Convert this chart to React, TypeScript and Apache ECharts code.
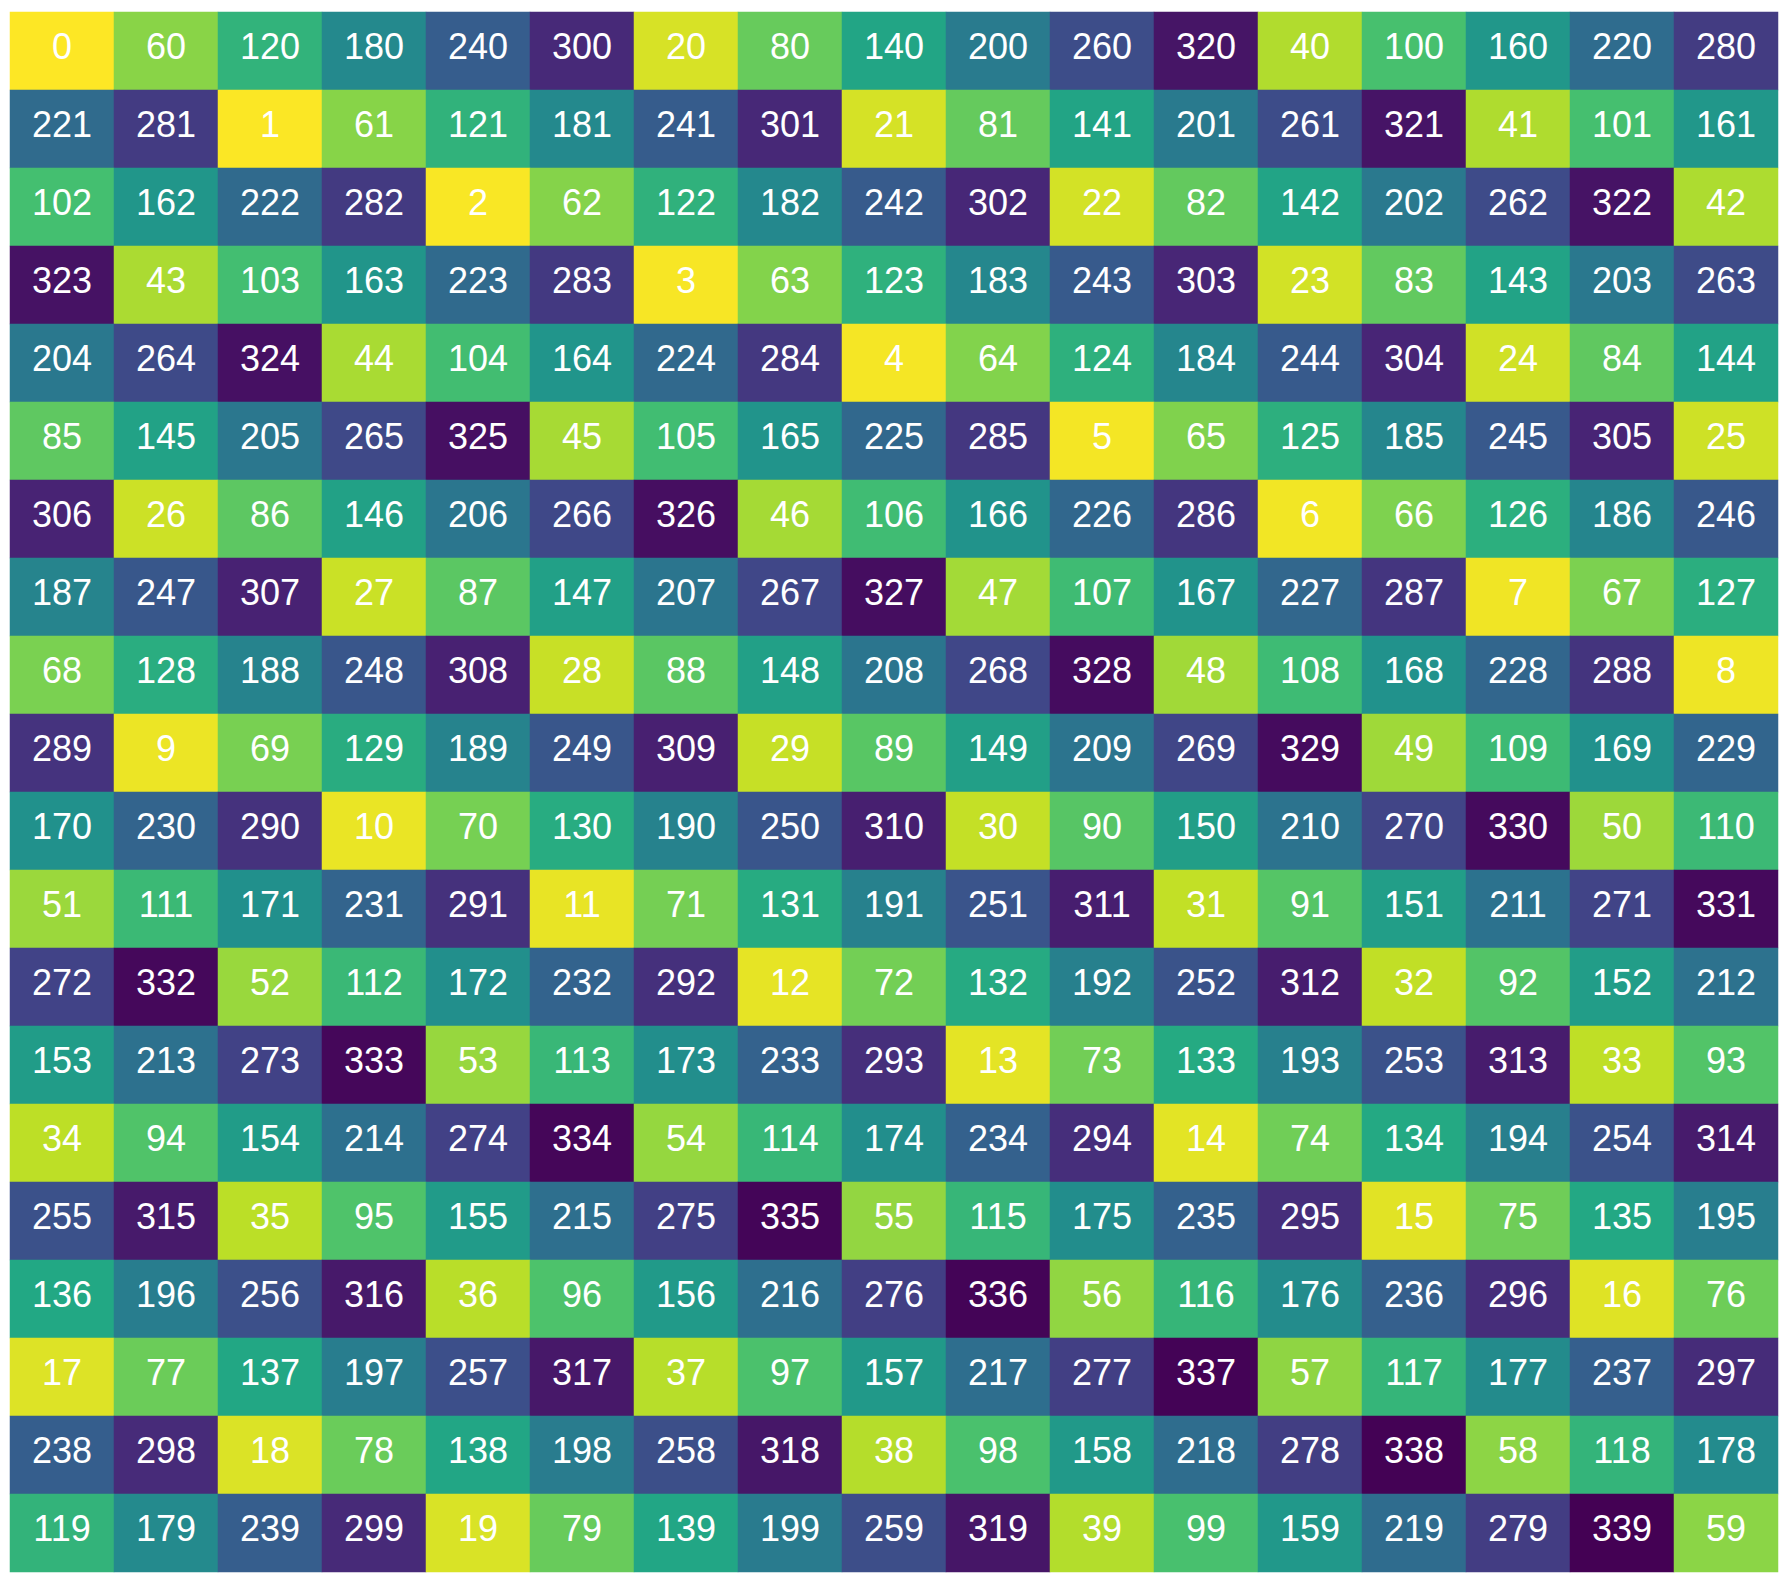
import React, { useEffect, useRef } from "react";
import * as echarts from "echarts";

const rows: number[][] = [
  [0, 60, 120, 180, 240, 300, 20, 80, 140, 200, 260, 320, 40, 100, 160, 220, 280],
  [221, 281, 1, 61, 121, 181, 241, 301, 21, 81, 141, 201, 261, 321, 41, 101, 161],
  [102, 162, 222, 282, 2, 62, 122, 182, 242, 302, 22, 82, 142, 202, 262, 322, 42],
  [323, 43, 103, 163, 223, 283, 3, 63, 123, 183, 243, 303, 23, 83, 143, 203, 263],
  [204, 264, 324, 44, 104, 164, 224, 284, 4, 64, 124, 184, 244, 304, 24, 84, 144],
  [85, 145, 205, 265, 325, 45, 105, 165, 225, 285, 5, 65, 125, 185, 245, 305, 25],
  [306, 26, 86, 146, 206, 266, 326, 46, 106, 166, 226, 286, 6, 66, 126, 186, 246],
  [187, 247, 307, 27, 87, 147, 207, 267, 327, 47, 107, 167, 227, 287, 7, 67, 127],
  [68, 128, 188, 248, 308, 28, 88, 148, 208, 268, 328, 48, 108, 168, 228, 288, 8],
  [289, 9, 69, 129, 189, 249, 309, 29, 89, 149, 209, 269, 329, 49, 109, 169, 229],
  [170, 230, 290, 10, 70, 130, 190, 250, 310, 30, 90, 150, 210, 270, 330, 50, 110],
  [51, 111, 171, 231, 291, 11, 71, 131, 191, 251, 311, 31, 91, 151, 211, 271, 331],
  [272, 332, 52, 112, 172, 232, 292, 12, 72, 132, 192, 252, 312, 32, 92, 152, 212],
  [153, 213, 273, 333, 53, 113, 173, 233, 293, 13, 73, 133, 193, 253, 313, 33, 93],
  [34, 94, 154, 214, 274, 334, 54, 114, 174, 234, 294, 14, 74, 134, 194, 254, 314],
  [255, 315, 35, 95, 155, 215, 275, 335, 55, 115, 175, 235, 295, 15, 75, 135, 195],
  [136, 196, 256, 316, 36, 96, 156, 216, 276, 336, 56, 116, 176, 236, 296, 16, 76],
  [17, 77, 137, 197, 257, 317, 37, 97, 157, 217, 277, 337, 57, 117, 177, 237, 297],
  [238, 298, 18, 78, 138, 198, 258, 318, 38, 98, 158, 218, 278, 338, 58, 118, 178],
  [119, 179, 239, 299, 19, 79, 139, 199, 259, 319, 39, 99, 159, 219, 279, 339, 59],
];

const colCategories: string[] = rows[0].map((_, i) => String(i));
const rowCategories: string[] = rows.map((_, i) => String(i));

const viridisReversed: string[] = [
  "#fde725", "#bddf26", "#7ad151", "#44bf70", "#22a884", "#21918c",
  "#2a788e", "#355f8d", "#414487", "#482475", "#440154",
];

export default function App() {
  const ref = useRef<HTMLDivElement>(null);
  useEffect(() => {
    if (!ref.current) return;
    const chart = echarts.init(ref.current, undefined, { renderer: "svg" });
    const data: number[][] = [];
    rows.forEach((row, r) => row.forEach((v, c) => data.push([c, r, v])));
    chart.setOption({
      animation: false,
      backgroundColor: "#ffffff",
      grid: { left: 10, top: 12, width: 1768, height: 1560 },
      xAxis: { type: "category", data: colCategories, show: false },
      yAxis: { type: "category", data: rowCategories, inverse: true, show: false },
      visualMap: {
        show: false,
        min: 0,
        max: 339,
        calculable: false,
        inRange: { color: viridisReversed },
      },
      series: [
        {
          type: "heatmap",
          data,
          label: {
            show: true,
            color: "#ffffff",
            fontSize: 36,
            offset: [0, -5],
            fontFamily: "'Liberation Sans', Arial, sans-serif",
            formatter: (p: any) => String(p.value[2]),
          },
          itemStyle: { borderWidth: 0 },
          emphasis: { disabled: true },
        },
      ],
    });
    return () => chart.dispose();
  }, []);
  return (
    <div
      ref={ref}
      style={{ position: "fixed", left: 0, top: 0, width: 1790, height: 1586 }}
    />
  );
}
